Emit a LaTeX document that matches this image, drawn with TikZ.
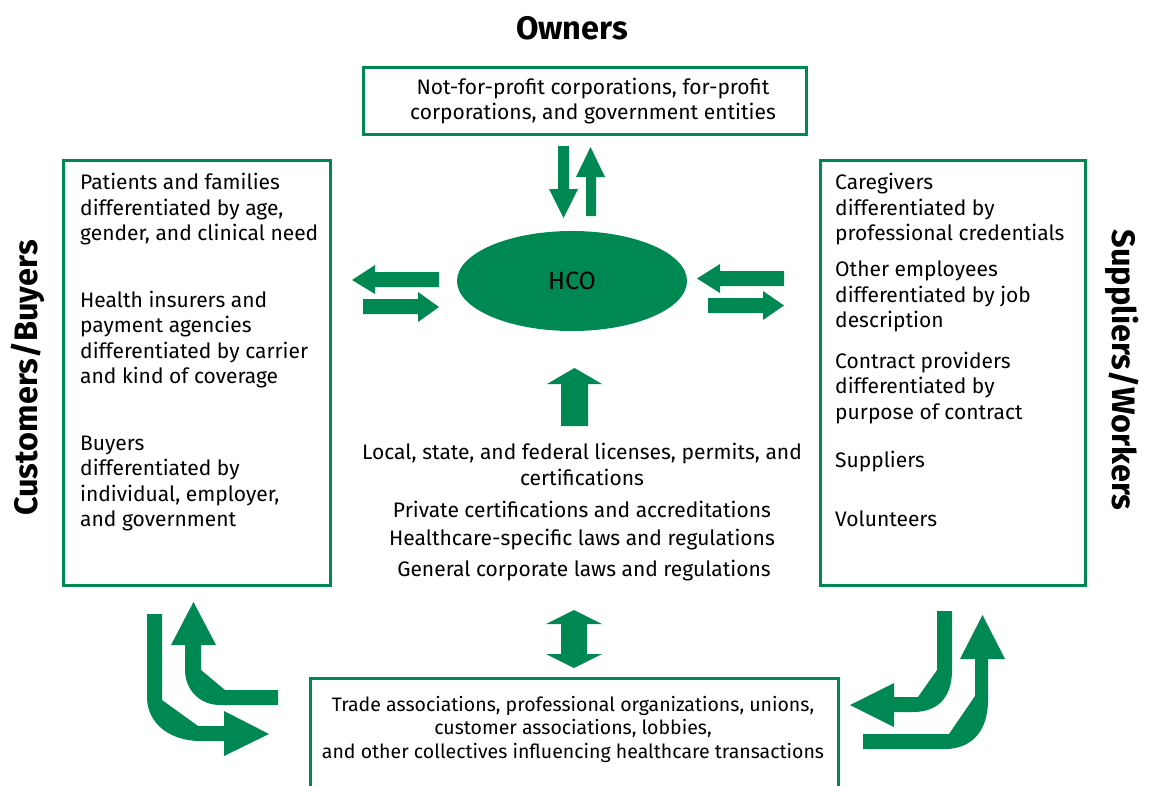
\documentclass[tikz,border=0pt]{standalone}
\usepackage{fontspec}
\setmainfont{Fira Sans}
\usetikzlibrary{shapes.geometric}
\definecolor{hgreen}{RGB}{0,136,82}
\tikzset{
  frame/.style={draw=hgreen, line width=3pt, rectangle, inner sep=0pt},
  body/.style={font=\fontsize{21}{25.5}\selectfont, inner sep=0pt, align=left, anchor=west},
  cbody/.style={font=\fontsize{21}{25.5}\selectfont, inner sep=0pt, align=center},
  sbody/.style={font=\fontsize{19.5}{23.5}\selectfont, inner sep=0pt, align=center},
  title/.style={font=\fontsize{32.5}{36}\selectfont\bfseries, inner sep=0pt},
  blockarrow/.style={fill=hgreen, draw=none},
}
\begin{document}
\begin{tikzpicture}[x=1pt,y=-1pt]
\useasboundingbox (0,0) rectangle (1149,785);

% titles
\node[title] (owners) at (572,28) {Owners};
\node[title, rotate=90] (cust) at (28,378) {Customers/Buyers};
\node[title, rotate=-90] (supp) at (1122,370) {Suppliers/Workers};

% boxes
\node[frame, minimum width=443pt, minimum height=67pt] (ownbox) at (584.5,100.5) {};
\node[cbody] (owntext) at (593,101) {Not-for-profit corporations, for-profit\\corporations, and government entities};

\node[frame, minimum width=267pt, minimum height=425pt] (leftbox) at (196.5,372.5) {};
\node[frame, minimum width=265pt, minimum height=425pt] (rightbox) at (952.5,372.5) {};

% bottom box (open at the bottom edge of the picture)
\coordinate (bbl) at (310,790);
\coordinate (btl) at (310,678);
\coordinate (btr) at (838,678);
\coordinate (bbr) at (838,790);
\draw[draw=hgreen, line width=3pt] (bbl) -- (btl) -- (btr) -- (bbr);
\node[sbody] (bottext) at (573,729) {Trade associations, professional organizations, unions,\\customer associations, lobbies,\hspace*{48pt}\\and other collectives influencing healthcare transactions};

% left box texts
\node[body] (l1) at (80,209.5) {Patients and families\\differentiated by age,\\gender, and clinical need};
\node[body] (l2) at (80,339.5) {Health insurers and\\payment agencies\\differentiated by carrier\\and kind of coverage};
\node[body] (l3) at (80,483.5) {Buyers\\differentiated by\\individual, employer,\\and government};

% right box texts
\node[body] (r1) at (835,209.5) {Caregivers\\differentiated by\\professional credentials};
\node[body] (r2) at (835,296.5) {Other employees\\differentiated by job\\description};
\node[body] (r3) at (835,388) {Contract providers\\differentiated by\\purpose of contract};
\node[body] (r4) at (835,462) {Suppliers};
\node[body] (r5) at (835,519) {Volunteers};

% centre texts
\node[cbody] (c1) at (582,464.5) {Local, state, and federal licenses, permits, and\\certifications};
\node[cbody] (c2) at (582,509) {Private certifications and accreditations};
\node[cbody] (c3) at (582,540) {Healthcare-specific laws and regulations};
\node[cbody] (c4) at (584,571) {General corporate laws and regulations};

% HCO ellipse
\node[ellipse, fill=hgreen, minimum width=230pt, minimum height=100pt, inner sep=0pt,
      font=\fontsize{25}{28}\selectfont] (hco) at (572,281) {HCO};

% top arrows
\fill[blockarrow] (558,146) -- (569,146) -- (569,189) -- (578,189) -- (563.5,218) -- (549,189) -- (558,189) -- cycle;
\fill[blockarrow] (586,216) -- (596,216) -- (596,177) -- (605,177) -- (590.5,147) -- (576,177) -- (586,177) -- cycle;

% left arrows
\fill[blockarrow] (439,272) -- (439,287) -- (375,287) -- (375,294) -- (352,280) -- (375,265) -- (375,272) -- cycle;
\fill[blockarrow] (363,299) -- (363,314) -- (418,314) -- (418,322) -- (439,307) -- (418,292) -- (418,299) -- cycle;

% right arrows
\fill[blockarrow] (784,271) -- (784,286) -- (720,286) -- (720,293) -- (697,278.5) -- (720,264) -- (720,271) -- cycle;
\fill[blockarrow] (708,298) -- (708,313) -- (763,313) -- (763,320) -- (784,305.5) -- (763,291) -- (763,298) -- cycle;

% up arrow below HCO
\fill[blockarrow] (561,426) -- (588,426) -- (588,384) -- (602,384) -- (574.5,368) -- (547,384) -- (561,384) -- cycle;

% double arrow to bottom box
\fill[blockarrow] (561,624) -- (546,624) -- (574,610) -- (602,624) -- (587,624) -- (587,654) -- (602,654) -- (574,668) -- (546,654) -- (561,654) -- cycle;

% bottom-left bent arrows
\fill[blockarrow] (147,614) -- (147,697) .. controls (147,725) and (172,741) .. (200,741)
  -- (224,741) -- (224,756) -- (269,734) -- (224,711) -- (224,726) -- (198,726) -- (162,700) -- (162,614) -- cycle;
\fill[blockarrow] (278,690) -- (225,690) -- (201,670) -- (201,645) -- (216,645) -- (193.5,602) -- (171,645) -- (185,645) -- (185,670)
  .. controls (185,690) and (200,705) .. (220,705) -- (278,705) -- cycle;

% bottom-right bent arrows
\fill[blockarrow] (937,611) -- (937,670) -- (918,697) -- (894,697) -- (894,683) -- (850,705) -- (894,727) -- (894,712) -- (913,712)
  .. controls (940,712) and (952,695) .. (952,670) -- (952,611) -- cycle;
\fill[blockarrow] (863,734) -- (949,734) -- (975,696) -- (975,659) -- (960,659) -- (982.5,615) -- (1005,659) -- (988,659) -- (988,700)
  .. controls (988,735) and (968,749) .. (945,749) -- (863,749) -- cycle;
\end{tikzpicture}
\end{document}
